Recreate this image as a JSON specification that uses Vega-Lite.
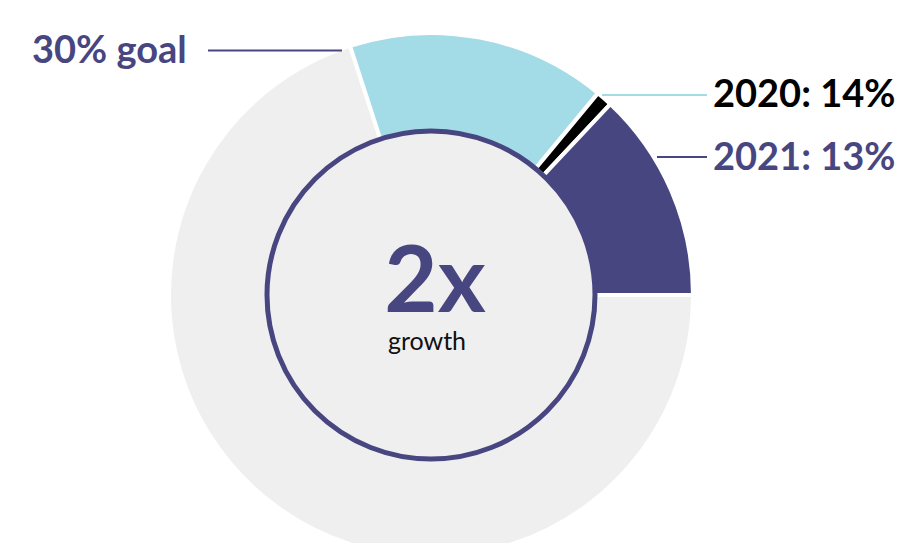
{
  "$schema": "https://vega.github.io/schema/vega-lite/v6.json",
  "width": 897,
  "height": 543,
  "autosize": "none",
  "padding": 0,
  "background": "white",
  "config": {"view": {"stroke": null}},
  "datasets": {
    "segments": [
      {"seg": "rest", "value": 70, "ord": 1},
      {"seg": "goal", "value": 16, "ord": 2},
      {"seg": "2020", "value": 1, "ord": 3},
      {"seg": "2021", "value": 13, "ord": 4}
    ],
    "labels": [
      {"series": "goal", "text": "30% goal", "x": -399, "y": 232},
      {"series": "2020", "text": "2020: 14%", "x": 282, "y": 188},
      {"series": "2021", "text": "2021: 13%", "x": 282, "y": 125}
    ],
    "lines": [
      {"series": "goal", "x": -223, "x2": -89, "y": 244.5},
      {"series": "2020line", "x": 171, "x2": 276, "y": 200},
      {"series": "2021", "x": 226, "x2": 276, "y": 138}
    ],
    "center": [
      {"text": "2x", "x": 4, "y": -17},
      {"text": "growth", "x": -4, "y": -55}
    ]
  },
  "layer": [
    {
      "data": {"name": "segments"},
      "mark": {"type": "arc", "outerRadius": 262, "stroke": "white", "strokeWidth": 4},
      "encoding": {
        "x": {"datum": 0, "type": "quantitative", "scale": {"domain": [-431, 466], "nice": false, "zero": false}, "axis": null},
        "y": {"datum": 0, "type": "quantitative", "scale": {"domain": [-248, 295], "nice": false, "zero": false}, "axis": null},
        "theta": {"field": "value", "type": "quantitative", "stack": true, "scale": {"domain": [0, 100], "range": [1.5708, 7.854]}},
        "order": {"field": "ord", "type": "quantitative"},
        "color": {"field": "seg", "type": "nominal", "legend": null,
          "scale": {"domain": ["rest", "goal", "2020", "2021"], "range": ["#efefef", "#a3dce7", "#000000", "#484680"]}}
      }
    },
    {
      "data": {"values": [{"cx": 0, "cy": 0}]},
      "mark": {"type": "point", "shape": "circle", "filled": true, "fill": "#efefef", "stroke": "#484680", "strokeWidth": 5, "size": 107584, "opacity": 1},
      "encoding": {
        "x": {"field": "cx", "type": "quantitative"},
        "y": {"field": "cy", "type": "quantitative"}
      }
    },
    {
      "data": {"name": "center"},
      "transform": [{"filter": "datum.text === '2x'"}],
      "mark": {"type": "text", "font": "Lato", "fontWeight": "bold", "fontSize": 92, "color": "#484680", "align": "center", "baseline": "alphabetic"},
      "encoding": {
        "x": {"field": "x", "type": "quantitative"},
        "y": {"field": "y", "type": "quantitative"},
        "text": {"field": "text"}
      }
    },
    {
      "data": {"name": "center"},
      "transform": [{"filter": "datum.text === 'growth'"}],
      "mark": {"type": "text", "font": "Lato", "fontWeight": "normal", "fontSize": 25, "color": "#111111", "align": "center", "baseline": "alphabetic"},
      "encoding": {
        "x": {"field": "x", "type": "quantitative"},
        "y": {"field": "y", "type": "quantitative"},
        "text": {"field": "text"}
      }
    },
    {
      "data": {"name": "lines"},
      "mark": {"type": "rule", "strokeWidth": 2},
      "encoding": {
        "x": {"field": "x", "type": "quantitative"},
        "x2": {"field": "x2"},
        "y": {"field": "y", "type": "quantitative"},
        "color": {"field": "series", "type": "nominal", "legend": null,
          "scale": {"domain": ["goal", "2021", "2020line"], "range": ["#484680", "#484680", "#a3dce7"]}}
      }
    },
    {
      "data": {"name": "labels"},
      "mark": {"type": "text", "font": "Lato", "fontWeight": "bold", "fontSize": 38, "align": "left", "baseline": "alphabetic"},
      "encoding": {
        "x": {"field": "x", "type": "quantitative"},
        "y": {"field": "y", "type": "quantitative"},
        "text": {"field": "text"},
        "color": {"field": "series", "type": "nominal", "legend": null,
          "scale": {"domain": ["goal", "2020", "2021"], "range": ["#484680", "#000000", "#484680"]}}
      }
    }
  ],
  "resolve": {"scale": {"color": "independent"}}
}
